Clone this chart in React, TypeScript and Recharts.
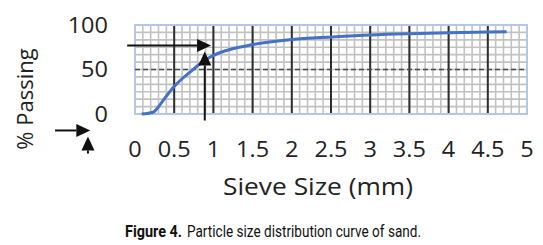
import React from 'react';
import {
  LineChart,
  Line,
  XAxis,
  YAxis,
  CartesianGrid,
  ReferenceLine,
  ReferenceArea,
  Customized,
} from 'recharts';

// Sieve size (mm)
const sieveSize = [0.085, 0.23, 0.32, 0.4, 0.49, 0.6, 0.7, 0.83, 0.96, 1.08, 1.21, 1.47, 1.72, 2.0, 2.51, 3.01, 3.51, 4.0, 4.5, 4.74];
// % passing at each of those sizes
const percentPassing = [0, 2, 10.5, 20, 30, 39.6, 47, 56.4, 64, 68.8, 72.5, 77.5, 80.9, 83.7, 86.5, 88.8, 90.2, 91.2, 92.1, 92.4];

const xTicks = [0, 0.5, 1, 1.5, 2, 2.5, 3, 3.5, 4, 4.5, 5];
const yTicks = [0, 50, 100];

// annotation arrows, in data units (start -> tip)
const arrowStartX = [-0.1, 0.89, -1.02, -0.6];
const arrowStartY = [77, -7.3, -18.5, -44.4];
const arrowEndX = [0.97, 0.89, -0.57, -0.6];
const arrowEndY = [77, 70.2, -18.5, -25.3];

const data = sieveSize.map((s, i) => ({ size: s, passing: percentPassing[i] }));
const arrows = arrowStartX.map((x, i) => ({
  x1: x,
  y1: arrowStartY[i],
  x2: arrowEndX[i],
  y2: arrowEndY[i],
}));

const TEXT = '#222';
const FONT = '"Open Sans", sans-serif';

const ArrowShape = (props: any) => {
  const { x1, y1, x2, y2 } = props;
  if ([x1, y1, x2, y2].some((v) => typeof v !== 'number' || isNaN(v))) return null;
  const dx = x2 - x1;
  const dy = y2 - y1;
  const len = Math.hypot(dx, dy) || 1;
  const ux = dx / len;
  const uy = dy / len;
  const hl = 14;
  const hw = 6.5;
  const bx = x2 - ux * hl;
  const by = y2 - uy * hl;
  const pts = `${x2},${y2} ${bx - uy * hw},${by + ux * hw} ${bx + uy * hw},${by - ux * hw}`;
  return (
    <g>
      <line x1={x1} y1={y1} x2={bx} y2={by} stroke="#111" strokeWidth={2} />
      <polygon points={pts} fill="#111" />
    </g>
  );
};

const XTick = (props: any) => {
  const { x, y, payload } = props;
  return (
    <g transform={`translate(${x},${y}) scale(1.12,1)`}>
      <text x={0} y={15} textAnchor="middle" fontFamily={FONT} fontSize={21} fill={TEXT}>
        {payload.value}
      </text>
    </g>
  );
};

const YTick = (props: any) => {
  const { x, y, payload } = props;
  return (
    <g transform={`translate(${x},${y}) scale(1.12,1)`}>
      <text x={0} y={7.5} textAnchor="end" fontFamily={FONT} fontSize={21} fill={TEXT}>
        {payload.value}
      </text>
    </g>
  );
};

const XLabel = () => (
  <text
    x={223}
    y={195}
    fontFamily={FONT}
    fontSize={23}
    fill={TEXT}
    textLength={190}
    lengthAdjust="spacingAndGlyphs"
  >
    Sieve Size (mm)
  </text>
);

const YLabel = () => (
  <text
    x={33}
    y={99}
    transform="rotate(-90 33 99)"
    textAnchor="middle"
    fontFamily={FONT}
    fontSize={22}
    fill={TEXT}
  >
    % Passing
  </text>
);

const Caption = () => (
  <g fontFamily="Roboto, sans-serif" fontSize={17} fill="#111">
    <text x={125} y={237} fontWeight="bold" textLength={57} lengthAdjust="spacingAndGlyphs">
      Figure 4.
    </text>
    <text x={187} y={237} textLength={234} lengthAdjust="spacingAndGlyphs">
      Particle size distribution curve of sand.
    </text>
  </g>
);

const minorVertical = (arg: any) => {
  const { offset, width } = arg;
  const w = offset.width ?? width - offset.left - offset.right;
  return Array.from({ length: 51 }, (_, i) => offset.left + (i * w) / 50);
};
const minorHorizontal = (arg: any) => {
  const { offset, height } = arg;
  const h = offset.height ?? height - offset.top - offset.bottom;
  return Array.from({ length: 13 }, (_, i) => offset.top + (i * h) / 12);
};

export default function App() {
  return (
    <div style={{ position: 'absolute', left: 0, top: 0, background: '#fff' }}>
      <LineChart
        width={543}
        height={245}
        data={data}
        margin={{ top: 25, right: 16, bottom: 101, left: 75 }}
      >
        <CartesianGrid
          stroke="#c2c2c2"
          strokeWidth={1.6}
          verticalCoordinatesGenerator={minorVertical}
          horizontalCoordinatesGenerator={minorHorizontal}
        />
        <CartesianGrid stroke="#2e2e2e" strokeWidth={2} horizontal={false} />
        <ReferenceLine y={50} stroke="#4a4a4a" strokeWidth={1.5} strokeDasharray="5 3" />
        <ReferenceArea x1={0} x2={5} y1={0} y2={100} fill="none" stroke="#b4c7e7" strokeWidth={2} />
        <XAxis
          dataKey="size"
          type="number"
          domain={[0, 5]}
          ticks={xTicks}
          height={30}
          axisLine={false}
          tickLine={false}
          tickSize={0}
          tickMargin={28}
          tick={<XTick />}
          interval={0}
        />
        <YAxis
          type="number"
          domain={[0, 100]}
          ticks={yTicks}
          width={60}
          axisLine={false}
          tickLine={false}
          tickSize={0}
          tickMargin={27}
          tick={<YTick />}
          interval={0}
        />
        <Line
          type="monotone"
          dataKey="passing"
          stroke="#4472C4"
          strokeWidth={3}
          dot={false}
          isAnimationActive={false}
        />
        {arrows.map((a, i) => (
          <ReferenceLine
            key={i}
            segment={[
              { x: a.x1, y: a.y1 },
              { x: a.x2, y: a.y2 },
            ]}
            ifOverflow="visible"
            shape={ArrowShape}
          />
        ))}
        <Customized component={<XLabel />} />
        <Customized component={<YLabel />} />
        <Customized component={<Caption />} />
      </LineChart>
    </div>
  );
}
